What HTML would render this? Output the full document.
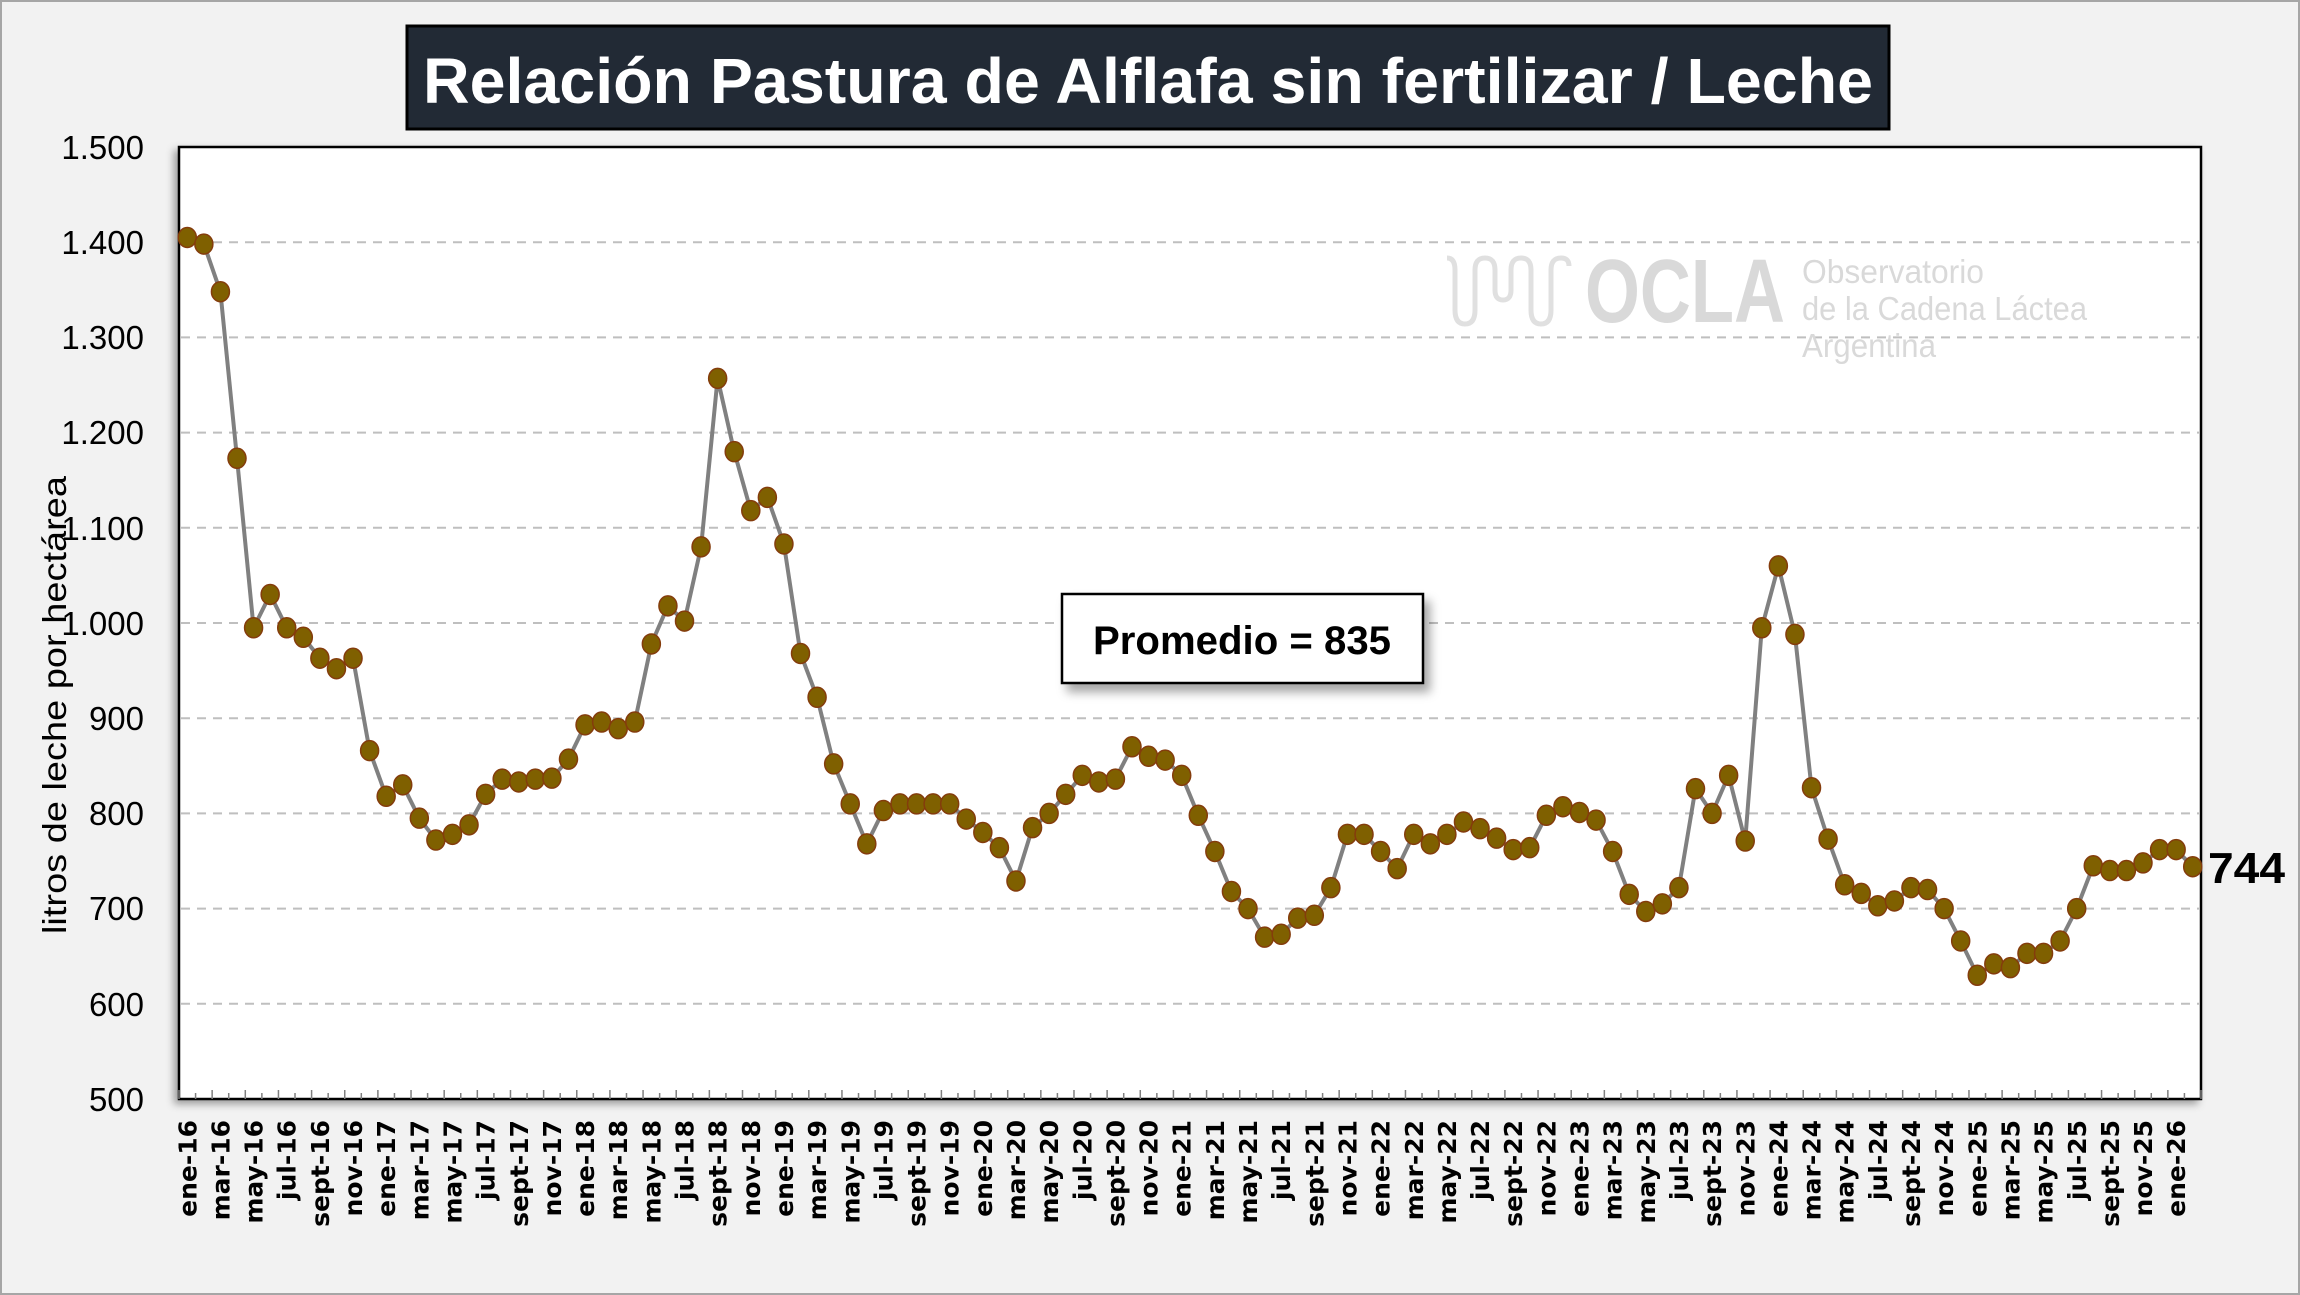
<!DOCTYPE html>
<html><head><meta charset="utf-8"><style>
html,body{margin:0;padding:0;background:#f2f2f2;}
svg{display:block;}
</style></head><body>
<svg width="2300" height="1295" viewBox="0 0 2300 1295" xmlns="http://www.w3.org/2000/svg">
<defs>
<filter id="sh" x="-5%" y="-5%" width="110%" height="115%"><feDropShadow dx="-4" dy="4" stdDeviation="4" flood-color="#000" flood-opacity="0.35"/></filter>
<filter id="sh2" x="-10%" y="-10%" width="130%" height="140%"><feDropShadow dx="6" dy="8" stdDeviation="5" flood-color="#000" flood-opacity="0.35"/></filter>
</defs>
<rect x="1" y="1" width="2298" height="1293" fill="#f2f2f2" stroke="#a6a6a6" stroke-width="2"/>
<rect x="407" y="26" width="1482" height="103" fill="#222a35" stroke="#000" stroke-width="3"/>
<text x="1148" y="103" fill="#fff" font-family="Liberation Sans, sans-serif" font-weight="bold" font-size="64" text-anchor="middle" textLength="1450" lengthAdjust="spacingAndGlyphs">Relación Pastura de Alflafa sin fertilizar / Leche</text>
<rect x="179" y="147" width="2022" height="952" fill="#fff" stroke="#000" stroke-width="2.5" filter="url(#sh)"/>
<g stroke="#bfbfbf" stroke-width="2" stroke-dasharray="9,7">
<line x1="181" x2="2199" y1="242.2" y2="242.2"/>
<line x1="181" x2="2199" y1="337.4" y2="337.4"/>
<line x1="181" x2="2199" y1="432.6" y2="432.6"/>
<line x1="181" x2="2199" y1="527.8" y2="527.8"/>
<line x1="181" x2="2199" y1="623" y2="623"/>
<line x1="181" x2="2199" y1="718.2" y2="718.2"/>
<line x1="181" x2="2199" y1="813.4" y2="813.4"/>
<line x1="181" x2="2199" y1="908.6" y2="908.6"/>
<line x1="181" x2="2199" y1="1003.8" y2="1003.8"/>
</g>
<g id="ticks" stroke="#808080" stroke-width="1.5"></g>
<g fill="none" stroke="#e0e0e0" stroke-width="5">
<path d="M1447 258 q8 0 8 12 v40 q0 14 10 14 q10 0 10 -14 v-40 q0 -12 10 -12 q10 0 10 12 v20 q0 10 8 10 q8 0 8 -10 v-20 q0 -12 10 -12 q10 0 10 12 v40 q0 14 10 14 q10 0 10 -14 v-40 q0 -12 10 -12 q8 0 8 8"/>
</g>
<text x="1585" y="322" fill="#d9d9d9" font-family="Liberation Sans, sans-serif" font-weight="bold" font-size="90" textLength="200" lengthAdjust="spacingAndGlyphs">OCLA</text>
<g fill="#d9d9d9" font-family="Liberation Sans, sans-serif" font-size="33">
<text x="1802" y="283" textLength="182" lengthAdjust="spacingAndGlyphs">Observatorio</text>
<text x="1802" y="320" textLength="285" lengthAdjust="spacingAndGlyphs">de la Cadena Láctea</text>
<text x="1802" y="357" textLength="134" lengthAdjust="spacingAndGlyphs">Argentina</text>
</g>
<g id="series"></g>
<rect x="1062" y="594" width="361" height="89" fill="#fff" stroke="#000" stroke-width="2.5" filter="url(#sh2)"/>
<text x="1242" y="654" font-family="Liberation Sans, sans-serif" font-weight="bold" font-size="40" text-anchor="middle" textLength="298" lengthAdjust="spacingAndGlyphs">Promedio = 835</text>
<text x="2208" y="883" font-family="Liberation Sans, sans-serif" font-weight="bold" font-size="44" textLength="77" lengthAdjust="spacingAndGlyphs">744</text>
<g font-family="Liberation Sans, sans-serif" font-size="33" text-anchor="end" fill="#000">
<text x="144" y="159">1.500</text>
<text x="144" y="254">1.400</text>
<text x="144" y="349">1.300</text>
<text x="144" y="444">1.200</text>
<text x="144" y="540">1.100</text>
<text x="144" y="635">1.000</text>
<text x="144" y="730">900</text>
<text x="144" y="825">800</text>
<text x="144" y="920">700</text>
<text x="144" y="1016">600</text>
<text x="144" y="1111">500</text>
</g>
<text transform="translate(66,705) rotate(-90)" font-family="Liberation Sans, sans-serif" font-size="33" text-anchor="middle" textLength="458" lengthAdjust="spacingAndGlyphs">litros de leche por hectárea</text>
<g font-family="DejaVu Sans, sans-serif" font-size="25" font-weight="bold" text-anchor="end" fill="#000">
<text transform="translate(196.3,1120) rotate(-90)">ene-16</text>
<text transform="translate(229.4,1120) rotate(-90)">mar-16</text>
<text transform="translate(262.6,1120) rotate(-90)">may-16</text>
<text transform="translate(295.7,1120) rotate(-90)">jul-16</text>
<text transform="translate(328.9,1120) rotate(-90)">sept-16</text>
<text transform="translate(362.0,1120) rotate(-90)">nov-16</text>
<text transform="translate(395.2,1120) rotate(-90)">ene-17</text>
<text transform="translate(428.3,1120) rotate(-90)">mar-17</text>
<text transform="translate(461.5,1120) rotate(-90)">may-17</text>
<text transform="translate(494.6,1120) rotate(-90)">jul-17</text>
<text transform="translate(527.8,1120) rotate(-90)">sept-17</text>
<text transform="translate(560.9,1120) rotate(-90)">nov-17</text>
<text transform="translate(594.1,1120) rotate(-90)">ene-18</text>
<text transform="translate(627.2,1120) rotate(-90)">mar-18</text>
<text transform="translate(660.4,1120) rotate(-90)">may-18</text>
<text transform="translate(693.5,1120) rotate(-90)">jul-18</text>
<text transform="translate(726.7,1120) rotate(-90)">sept-18</text>
<text transform="translate(759.8,1120) rotate(-90)">nov-18</text>
<text transform="translate(793.0,1120) rotate(-90)">ene-19</text>
<text transform="translate(826.1,1120) rotate(-90)">mar-19</text>
<text transform="translate(859.3,1120) rotate(-90)">may-19</text>
<text transform="translate(892.4,1120) rotate(-90)">jul-19</text>
<text transform="translate(925.6,1120) rotate(-90)">sept-19</text>
<text transform="translate(958.7,1120) rotate(-90)">nov-19</text>
<text transform="translate(991.9,1120) rotate(-90)">ene-20</text>
<text transform="translate(1025.0,1120) rotate(-90)">mar-20</text>
<text transform="translate(1058.2,1120) rotate(-90)">may-20</text>
<text transform="translate(1091.3,1120) rotate(-90)">jul-20</text>
<text transform="translate(1124.4,1120) rotate(-90)">sept-20</text>
<text transform="translate(1157.6,1120) rotate(-90)">nov-20</text>
<text transform="translate(1190.7,1120) rotate(-90)">ene-21</text>
<text transform="translate(1223.9,1120) rotate(-90)">mar-21</text>
<text transform="translate(1257.0,1120) rotate(-90)">may-21</text>
<text transform="translate(1290.2,1120) rotate(-90)">jul-21</text>
<text transform="translate(1323.3,1120) rotate(-90)">sept-21</text>
<text transform="translate(1356.5,1120) rotate(-90)">nov-21</text>
<text transform="translate(1389.6,1120) rotate(-90)">ene-22</text>
<text transform="translate(1422.8,1120) rotate(-90)">mar-22</text>
<text transform="translate(1455.9,1120) rotate(-90)">may-22</text>
<text transform="translate(1489.1,1120) rotate(-90)">jul-22</text>
<text transform="translate(1522.2,1120) rotate(-90)">sept-22</text>
<text transform="translate(1555.4,1120) rotate(-90)">nov-22</text>
<text transform="translate(1588.5,1120) rotate(-90)">ene-23</text>
<text transform="translate(1621.7,1120) rotate(-90)">mar-23</text>
<text transform="translate(1654.8,1120) rotate(-90)">may-23</text>
<text transform="translate(1688.0,1120) rotate(-90)">jul-23</text>
<text transform="translate(1721.1,1120) rotate(-90)">sept-23</text>
<text transform="translate(1754.3,1120) rotate(-90)">nov-23</text>
<text transform="translate(1787.4,1120) rotate(-90)">ene-24</text>
<text transform="translate(1820.6,1120) rotate(-90)">mar-24</text>
<text transform="translate(1853.7,1120) rotate(-90)">may-24</text>
<text transform="translate(1886.9,1120) rotate(-90)">jul-24</text>
<text transform="translate(1920.0,1120) rotate(-90)">sept-24</text>
<text transform="translate(1953.2,1120) rotate(-90)">nov-24</text>
<text transform="translate(1986.3,1120) rotate(-90)">ene-25</text>
<text transform="translate(2019.5,1120) rotate(-90)">mar-25</text>
<text transform="translate(2052.6,1120) rotate(-90)">may-25</text>
<text transform="translate(2085.8,1120) rotate(-90)">jul-25</text>
<text transform="translate(2118.9,1120) rotate(-90)">sept-25</text>
<text transform="translate(2152.1,1120) rotate(-90)">nov-25</text>
<text transform="translate(2185.2,1120) rotate(-90)">ene-26</text>
</g>
</svg>
<script>
var d=[1405,1398,1348,1173,995,1030,995,985,963,952,963,866,
818,830,795,772,778,788,820,836,833,836,837,857,
893,896,889,896,978,1018,1002,1080,1257,1180,1118,1132,
1083,968,922,852,810,768,803,810,810,810,810,794,
780,764,729,785,800,820,840,833,836,870,860,856,
840,798,760,718,700,670,673,690,693,722,778,778,
760,742,778,768,778,791,784,774,762,764,798,807,
801,793,760,715,697,705,722,826,800,840,771,995,
1060,988,827,773,725,716,703,708,722,720,700,666,
630,642,638,653,653,666,700,745,740,740,748,762,
762,744];
var NS="http://www.w3.org/2000/svg",step=2022/122;
function X(i){return 179+(i+0.5)*step;}function Y(v){return 1099-(v-500)*0.952;}
var g=document.getElementById('series'),t=document.getElementById('ticks');
for(var i=0;i<=122;i++){var l=document.createElementNS(NS,'line');var x=179+i*step;l.setAttribute('x1',x);l.setAttribute('x2',x);l.setAttribute('y1',1099);l.setAttribute('y2',i%2?1093:1090);t.appendChild(l);}
var p=document.createElementNS(NS,'polyline');p.setAttribute('points',d.map(function(v,i){return X(i).toFixed(1)+','+Y(v).toFixed(1)}).join(' '));
p.setAttribute('fill','none');p.setAttribute('stroke','#808080');p.setAttribute('stroke-width','4');g.appendChild(p);
d.forEach(function(v,i){var e=document.createElementNS(NS,'ellipse');e.setAttribute('cx',X(i));e.setAttribute('cy',Y(v));e.setAttribute('rx',9);e.setAttribute('ry',10);e.setAttribute('fill','#7f6000');e.setAttribute('stroke','#843c0c');e.setAttribute('stroke-width','1.5');g.appendChild(e);});
</script>
</body></html>
